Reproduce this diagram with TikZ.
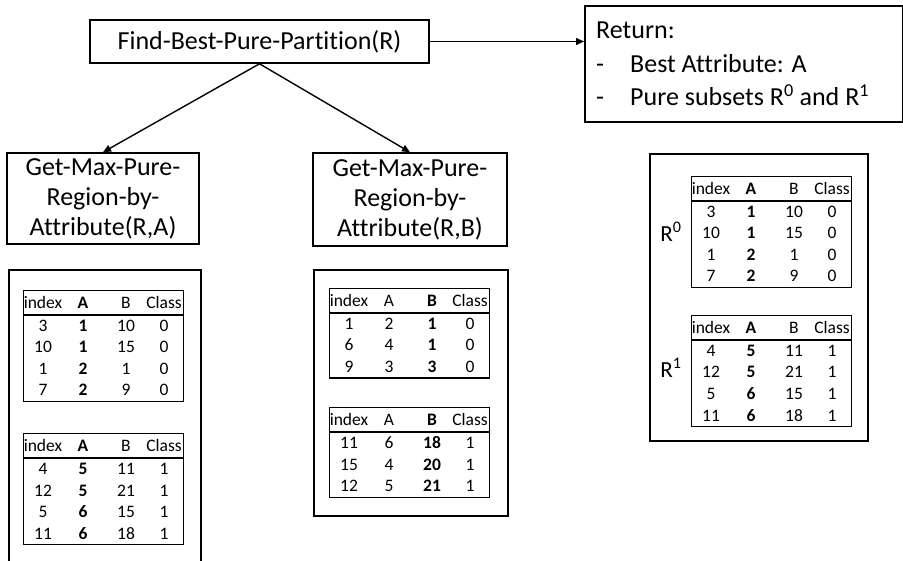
\documentclass[tikz,border=0pt]{standalone}
\usepackage{fontspec}
\setmainfont{Carlito}[Ligatures={NoCommon}]
\usetikzlibrary{arrows.meta}

\tikzset{
  box/.style={draw, line width=1.6pt, inner sep=0pt},
  panel/.style={draw, line width=1.8pt, inner sep=0pt, anchor=north west},
  tframe/.style={draw, line width=1.1pt, inner sep=0pt, anchor=north west},
  cell/.style={font=\fontsize{17.5}{20}\selectfont, inner sep=0pt, anchor=base},
  big/.style={font=\fontsize{26}{30}\selectfont},
  retline/.style={big, inner sep=0pt, anchor=base west},
  sublabel/.style={font=\fontsize{23}{26}\selectfont, inner sep=0pt},
  link/.style={line width=1.4pt, -{Triangle[length=8pt,width=7pt]}},
}

% #1 name, #2 left x, #3 top y, #4 bold column (2 = A, 3 = B),
% #5 number of rows, #6 rows as index/A/B/Class
\newcommand\datatable[6]{%
  \pgfmathsetmacro\tabh{25+21.5*#5}
  \node[tframe, minimum width=160pt, minimum height=\tabh pt] (#1) at (#2,#3) {};
  \draw[line width=1.1pt] ([yshift=-25pt]#1.north west) -- ([yshift=-25pt]#1.north east);
  \node[cell] (#1-h-1) at (#2+20,#3+18.5) {index};
  \node[cell] (#1-h-2) at (#2+60,#3+18.5) {\ifnum#4=2 \bfseries\fi A};
  \node[cell] (#1-h-3) at (#2+103,#3+18.5) {\ifnum#4=3 \bfseries\fi B};
  \node[cell] (#1-h-4) at (#2+141,#3+18.5) {Class};
  \foreach \i/\a/\b/\c [count=\r] in {#6} {
    \pgfmathsetmacro\yy{#3+25+21.5*(\r-1)+16.5}
    \node[cell] (#1-\r-1) at (#2+20,\yy) {\i};
    \node[cell] (#1-\r-2) at (#2+60,\yy) {\ifnum#4=2 \bfseries\fi\a};
    \node[cell] (#1-\r-3) at (#2+103,\yy) {\ifnum#4=3 \bfseries\fi\b};
    \node[cell] (#1-\r-4) at (#2+141,\yy) {\c};
  }%
}

\begin{document}
\begin{tikzpicture}[x=1pt,y=-1pt]
\useasboundingbox (0,0) rectangle (903,561);
\clip (0,0) rectangle (903,561);

% call tree
\node[box, big, minimum width=339pt, minimum height=43pt] (find) at (259.5,41.5)
  {Find-Best-Pure-Partition(R)};
\node[box, minimum width=318pt, minimum height=116pt, anchor=north west] (ret) at (584,5) {};
\node[retline] (ret1) at (596,39) {Return:};
\node[retline] (ret2) at (596,73) {\makebox[34pt][l]{-}Best Attribute: A};
\node[retline] (ret3) at (596,106) {\makebox[34pt][l]{-}Pure subsets R\textsuperscript{0} and R\textsuperscript{1}};

\node[box, big, align=center, minimum width=192pt, minimum height=91pt] (gl) at (103,198.5)
  {Get-Max-Pure-\\Region-by-\\Attribute(R,A)};
\node[box, big, align=center, minimum width=194pt, minimum height=93pt] (gr) at (410,199.5)
  {Get-Max-Pure-\\Region-by-\\Attribute(R,B)};

\draw[link] (find.south) -- (gl.north);
\draw[link] (find.south) -- (gr.north);
\draw[link] (find.east) -- (find.east -| ret.west);

% partition by A
\node[panel, minimum width=192pt, minimum height=320pt] (lpanel) at (8,269) {};
\datatable{lt1}{23}{290}{2}{4}{3/1/10/0, 10/1/15/0, 1/2/1/0, 7/2/9/0}
\datatable{lt2}{23}{433}{2}{4}{4/5/11/1, 12/5/21/1, 5/6/15/1, 11/6/18/1}

% partition by B
\node[panel, minimum width=194pt, minimum height=246pt] (mpanel) at (313,269) {};
\datatable{mt1}{329}{288}{3}{3}{1/2/1/0, 6/4/1/0, 9/3/3/0}
\datatable{mt2}{329}{407}{3}{3}{11/6/18/1, 15/4/20/1, 12/5/21/1}

% chosen subsets
\node[panel, minimum width=218pt, minimum height=287pt] (rpanel) at (649,153) {};
\datatable{rt1}{691}{176}{2}{4}{3/1/10/0, 10/1/15/0, 1/2/1/0, 7/2/9/0}
\datatable{rt2}{691}{315}{2}{4}{4/5/11/1, 12/5/21/1, 5/6/15/1, 11/6/18/1}
\node[sublabel] (r0) at (671,232) {R\textsuperscript{0}};
\node[sublabel] (r1) at (671,368) {R\textsuperscript{1}};
\end{tikzpicture}
\end{document}
